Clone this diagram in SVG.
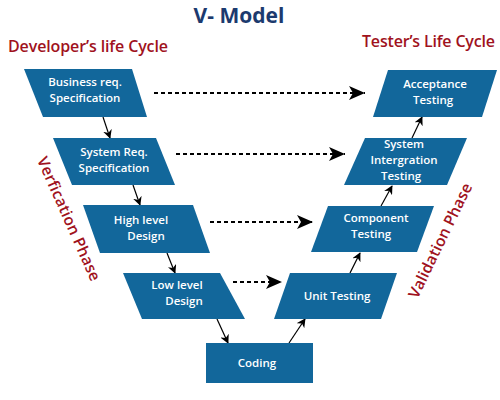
<svg xmlns="http://www.w3.org/2000/svg" width="500" height="400" viewBox="0 0 500 400">
<style>
.box{fill:#12679b}
.bt{fill:#fff;font-family:"Open Sans","Liberation Sans",sans-serif;font-weight:600;font-size:11.5px;text-anchor:middle}
.hd{fill:#a0121d;font-family:"Open Sans","Liberation Sans",sans-serif;font-weight:600;font-size:16px}
.ph{fill:#a0121d;font-family:"Open Sans","Liberation Sans",sans-serif;font-weight:600;font-size:15.5px;text-anchor:middle}
.sl{stroke:#000;stroke-width:1.2;fill:none;marker-end:url(#sa)}
.dl{stroke:#000;stroke-width:2;stroke-dasharray:4 3;fill:none;marker-end:url(#da)}
</style>
<defs>
<marker id="sa" viewBox="0 0 10 10" refX="9" refY="5" markerWidth="9" markerHeight="9" markerUnits="userSpaceOnUse" orient="auto">
<path d="M0,0 L10,5 L0,10 L3,5 Z" fill="#000"/>
</marker>
<marker id="da" viewBox="0 0 16 14" refX="16" refY="7" markerWidth="16" markerHeight="14" markerUnits="userSpaceOnUse" orient="auto">
<path d="M0,0 L16,7 L0,14 L4,7 Z" fill="#000"/>
</marker>
</defs>
<rect width="500" height="400" fill="#fff"/>
<text x="239" y="23" fill="#1c3a6e" font-family="'Open Sans','Liberation Sans',sans-serif" font-weight="700" font-size="21" text-anchor="middle">V- Model</text>
<text class="hd" x="8" y="52" textLength="160">Developer’s life Cycle</text>
<text class="hd" x="362" y="47" textLength="133">Tester’s Life Cycle</text>
<text class="ph" transform="translate(64,221) rotate(66)" textLength="134">Verfication Phase</text>
<text class="ph" transform="translate(445,243) rotate(-64)" textLength="126">Validation Phase</text>

<g id="connectors">
<line class="sl" x1="103" y1="117" x2="110" y2="138"/>
<line class="sl" x1="133" y1="185" x2="140" y2="205"/>
<line class="sl" x1="167" y1="253" x2="175" y2="273"/>
<line class="sl" x1="217" y1="319" x2="228" y2="343"/>
<line class="sl" x1="289" y1="343" x2="305" y2="319"/>
<line class="sl" x1="350" y1="273" x2="360" y2="253"/>
<line class="sl" x1="381" y1="206" x2="392" y2="186"/>
<line class="sl" x1="412" y1="138" x2="422" y2="117"/>
<line class="dl" x1="154" y1="93" x2="365" y2="93"/>
<line class="dl" x1="176" y1="154" x2="345" y2="154"/>
<line class="dl" x1="210" y1="222" x2="313" y2="222"/>
<line class="dl" x1="233" y1="282" x2="282" y2="282"/>
</g>

<g id="business">
<polygon class="box" points="24,69 132,69 147,117 43,117"/>
<text class="bt" x="85" y="86">Business req.</text>
<text class="bt" x="85" y="102">Specification</text>
</g>
<g id="systemreq">
<polygon class="box" points="53,138 156,138 175,185 72,185"/>
<text class="bt" x="114" y="156">System Req.</text>
<text class="bt" x="114" y="172">Specification</text>
</g>
<g id="highlevel">
<polygon class="box" points="83,205 193,205 210,253 100,253"/>
<text class="bt" x="141" y="224">High level</text>
<text class="bt" x="146" y="240">Design</text>
</g>
<g id="lowlevel">
<polygon class="box" points="123,273 220,273 245,319 142,319"/>
<text class="bt" x="177" y="289">Low level</text>
<text class="bt" x="184" y="305">Design</text>
</g>
<g id="coding">
<rect class="box" x="206" y="343" width="107" height="40"/>
<text class="bt" x="257" y="367">Coding</text>
</g>
<g id="unit">
<polygon class="box" points="290,273 397,273 381,319 274,319"/>
<text class="bt" x="337" y="300">Unit Testing</text>
</g>
<g id="component">
<polygon class="box" points="328,206 434,206 417,252 311,252"/>
<text class="bt" x="376" y="222">Component</text>
<text class="bt" x="371" y="238">Testing</text>
</g>
<g id="sysint">
<polygon class="box" points="365,138 467,138 447,185 344,185"/>
<text class="bt" x="404" y="148" font-size="9.5">System</text>
<text class="bt" x="404" y="164">Intergration</text>
<text class="bt" x="401" y="180">Testing</text>
</g>
<g id="acceptance">
<polygon class="box" points="388,70 497,70 482,117 373,117"/>
<text class="bt" x="435" y="88">Acceptance</text>
<text class="bt" x="433" y="104">Testing</text>
</g>
</svg>
